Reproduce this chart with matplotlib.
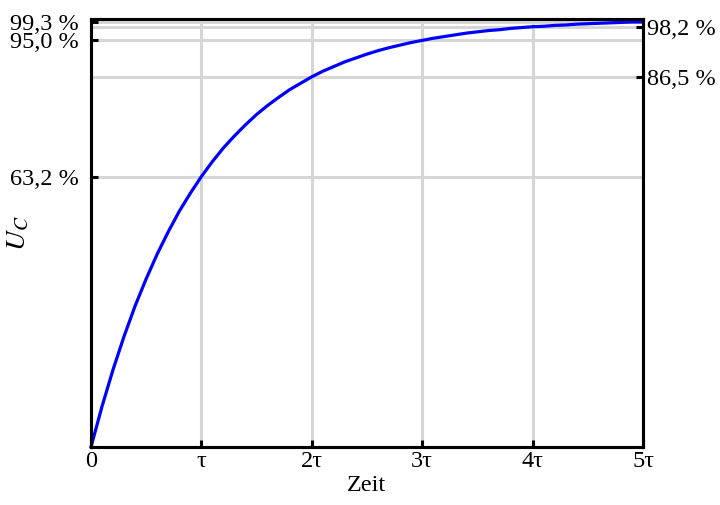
import matplotlib
matplotlib.use("Agg")
import matplotlib.pyplot as plt

# charge curve, percent of final voltage, read every 0.1 tau
t_tau = [i / 10 for i in range(51)]
uc_pct = [0, 9.5, 18.1, 25.9, 33.0, 39.3, 45.1, 50.3, 55.1, 59.3,
          63.2, 66.7, 69.9, 72.7, 75.3, 77.7, 79.8, 81.7, 83.5, 85.0,
          86.5, 87.8, 88.9, 90.0, 90.9, 91.8, 92.6, 93.3, 93.9, 94.5,
          95.0, 95.5, 95.9, 96.3, 96.7, 97.0, 97.3, 97.5, 97.8, 98.0,
          98.2, 98.3, 98.5, 98.6, 98.8, 98.9, 99.0, 99.1, 99.2, 99.3,
          99.3]

x_ticks = [0, 1, 2, 3, 4, 5]
x_labels = ["0", "τ", "2τ", "3τ", "4τ", "5τ"]
left_ticks = [63.2, 95.0, 99.3]
left_labels = ["63,2 %", "95,0 %", "99,3 %"]
right_ticks = [86.5, 98.2]
right_labels = ["86,5 %", "98,2 %"]

plt.rcParams["font.family"] = ["Liberation Serif", "DejaVu Serif"]
plt.rcParams["mathtext.fontset"] = "stix"

fig = plt.figure(figsize=(7.2, 5.05), dpi=100)
ax = fig.add_axes([91 / 720, 1 - 447 / 505, (643 - 91) / 720, (447 - 19) / 505])

grid_kw = dict(color="#d6d6d6", lw=2.2, zorder=1)
for x in x_ticks[1:-1]:
    ax.axvline(x, **grid_kw)
for y in left_ticks + right_ticks:
    ax.axhline(y, **grid_kw)

ax.plot(t_tau, uc_pct, color="#0000ff", lw=2.3, zorder=3, clip_on=False)

ax.set_xlim(0, 5)
ax.set_ylim(0, 100)
ax.set_xticks(x_ticks, x_labels)
ax.set_yticks(left_ticks, left_labels)
ax.tick_params(direction="in", length=5, width=2.2, labelsize=17.5, color="black")
ax.tick_params(axis="y", pad=9)
ax.tick_params(axis="x", pad=3)

ax2 = ax.twinx()
ax2.set_ylim(0, 100)
ax2.set_yticks(right_ticks, right_labels)
ax2.tick_params(direction="in", length=5, width=2.2, labelsize=17.5, pad=3)

for a in (ax, ax2):
    for s in a.spines.values():
        s.set_linewidth(2.2)
        s.set_zorder(5)

ax.set_xlabel("Zeit", fontsize=17.5, labelpad=2)
ax.set_ylabel("$U_C$", fontsize=20)
ax.yaxis.set_label_coords(-0.108, 0.5)

fig.savefig("out.png", dpi=100)
